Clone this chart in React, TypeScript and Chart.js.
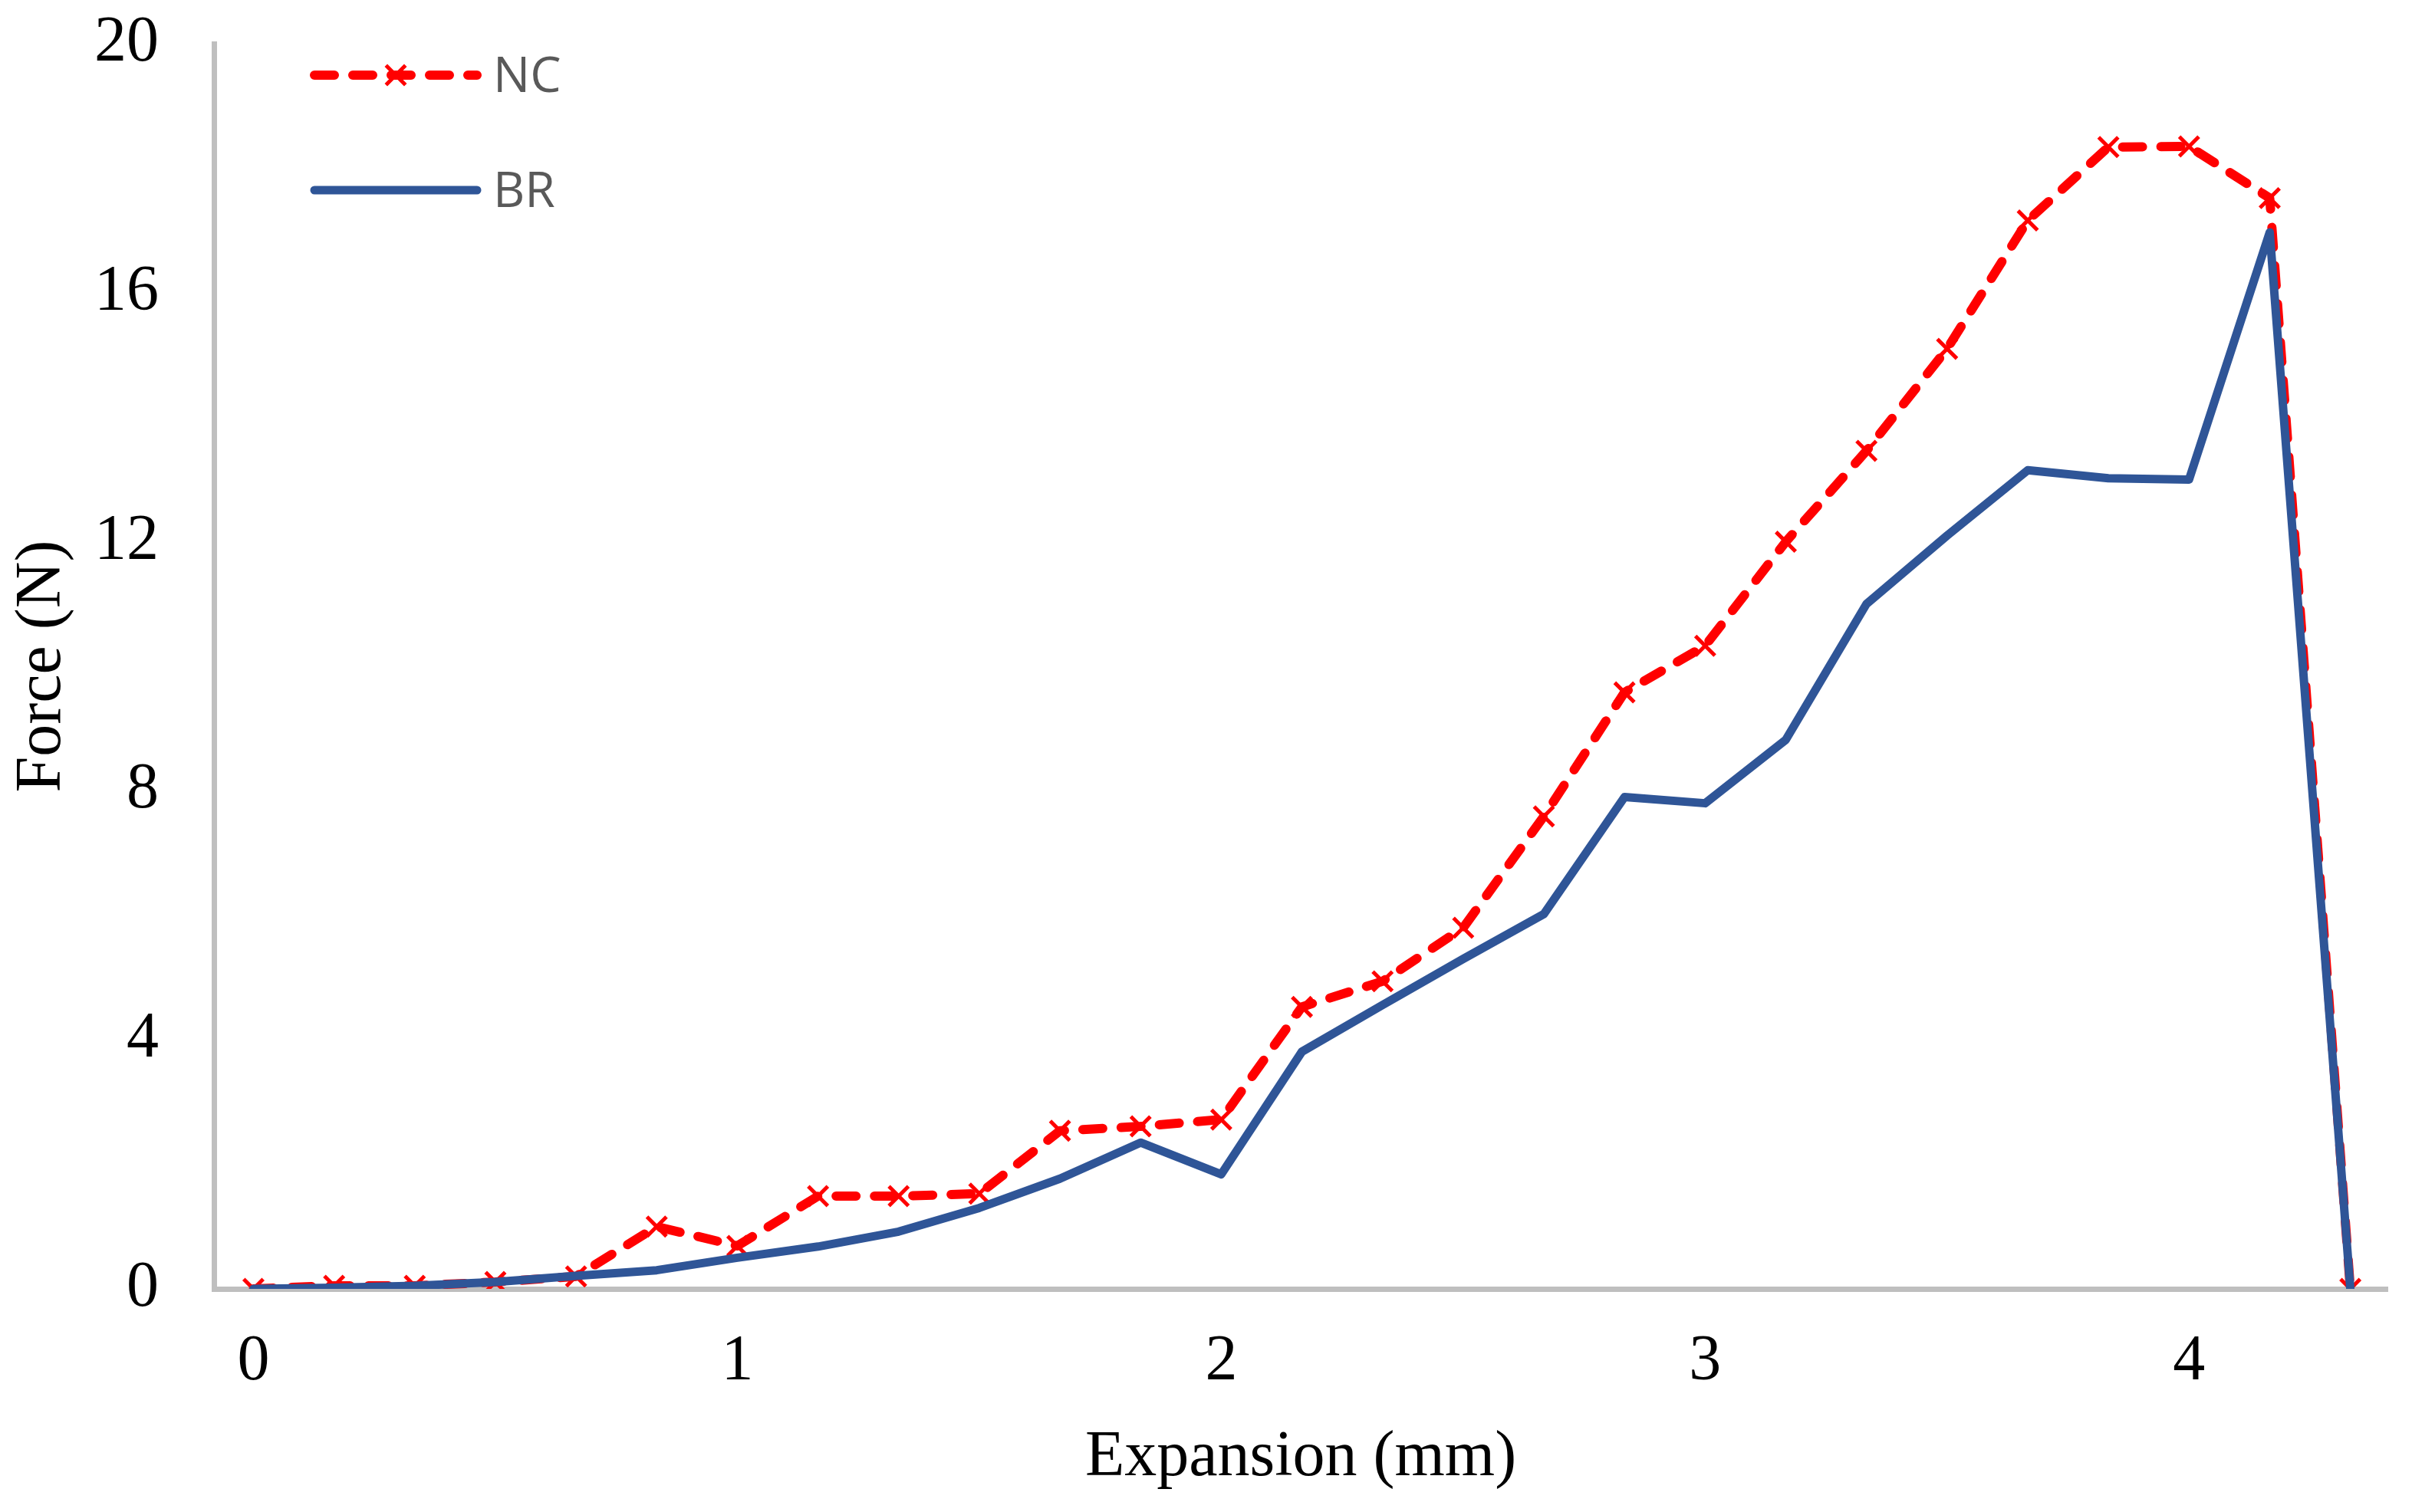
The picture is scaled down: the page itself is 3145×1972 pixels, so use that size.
import React, { useEffect, useRef } from 'react';
import { Chart, registerables } from 'chart.js';

Chart.register(...registerables);

// ---- data ----
const expansion = [
  0, 0.1667, 0.3333, 0.5, 0.6667, 0.8333, 1.0, 1.1667, 1.3333, 1.5, 1.6667, 1.8333, 2.0,
  2.1667, 2.3333, 2.5, 2.6667, 2.8333, 3.0, 3.1667, 3.3333, 3.5, 3.6667, 3.8333, 4.0,
  4.1667, 4.3333,
];
const forceNC = [
  0, 0.05, 0.05, 0.11, 0.2, 1.0, 0.69, 1.49, 1.49, 1.53, 2.54, 2.61, 2.72, 4.53, 4.94,
  5.8, 7.59, 9.58, 10.33, 12.0, 13.46, 15.1, 17.16, 18.34, 18.35, 17.52, 0,
];
const forceBR = [
  0, 0.02, 0.05, 0.11, 0.21, 0.3, 0.5, 0.68, 0.92, 1.3, 1.77, 2.35, 1.84, 3.81, 4.56,
  5.3, 6.02, 7.9, 7.8, 8.82, 11.0, 12.1, 13.15, 13.02, 13.0, 16.97, 0,
];
const seriesNames = ['NC', 'BR'];
const xTicks = [0, 1, 2, 3, 4];
const yTicks = [0, 4, 8, 12, 16, 20];
const xTitle = 'Expansion (mm)';
const yTitle = 'Force (N)';

const W = 3145;
const H = 1972;
const SERIF = '"Liberation Serif", "Times New Roman", serif';

function toPoints(ys: number[]) {
  return ys.map((y, i) => ({ x: expansion[i], y }));
}

function drawCross(ctx: CanvasRenderingContext2D, cx: number, cy: number, r: number) {
  const d = r * Math.SQRT1_2;
  ctx.beginPath();
  ctx.moveTo(cx - d, cy - d);
  ctx.lineTo(cx + d, cy + d);
  ctx.moveTo(cx + d, cy - d);
  ctx.lineTo(cx - d, cy + d);
  ctx.stroke();
}

const insideLegend = {
  id: 'insideLegend',
  afterDraw(chart: any) {
    const ctx: CanvasRenderingContext2D = chart.ctx;
    const rows = [98, 248];
    chart.data.datasets.forEach((ds: any, i: number) => {
      const y = rows[i];
      ctx.save();
      ctx.strokeStyle = ds.borderColor;
      ctx.lineWidth = ds.borderWidth;
      ctx.lineCap = 'round';
      ctx.lineJoin = 'round';
      ctx.setLineDash(ds.borderDash || []);
      ctx.lineDashOffset = 0;
      ctx.beginPath();
      ctx.moveTo(410, y);
      ctx.lineTo(622, y);
      ctx.stroke();
      if (ds.pointRadius > 0) {
        ctx.setLineDash([]);
        ctx.lineCap = 'butt';
        ctx.lineWidth = ds.pointBorderWidth;
        ctx.strokeStyle = ds.pointBorderColor;
        drawCross(ctx, 516, y, ds.pointRadius);
      }
      ctx.fillStyle = '#595959';
      ctx.font = '64px "Open Sans", "Noto Sans", sans-serif';
      ctx.textAlign = 'left';
      ctx.textBaseline = 'alphabetic';
      ctx.fillText(ds.label, 643, y + 22);
      ctx.restore();
    });
  },
};

function zeroPad(s: any) {
  s.paddingTop = 0;
  s.paddingBottom = 0;
  s.paddingLeft = 0;
  s.paddingRight = 0;
}

export default function App() {
  const ref = useRef<HTMLCanvasElement | null>(null);

  useEffect(() => {
    if (!ref.current) return;
    const chart = new Chart(ref.current, {
      type: 'line',
      data: {
        datasets: [
          {
            label: seriesNames[0],
            data: toPoints(forceNC),
            borderColor: '#FF0000',
            backgroundColor: '#FF0000',
            borderWidth: 12,
            borderDash: [26, 24],
            borderCapStyle: 'round',
            borderJoinStyle: 'round',
            pointStyle: 'crossRot',
            pointRadius: 18,
            pointBorderWidth: 5,
            pointBorderColor: '#FF0000',
            pointBackgroundColor: '#FF0000',
            tension: 0,
            order: 2,
          } as any,
          {
            label: seriesNames[1],
            data: toPoints(forceBR),
            borderColor: '#2F5597',
            backgroundColor: '#2F5597',
            borderWidth: 11,
            borderCapStyle: 'round',
            borderJoinStyle: 'round',
            pointRadius: 0,
            pointBorderWidth: 0,
            tension: 0,
            order: 1,
          } as any,
        ],
      },
      options: {
        animation: false,
        responsive: false,
        devicePixelRatio: 1,
        layout: { padding: { top: 57, right: 32, left: 0, bottom: 0 } },
        plugins: {
          legend: { display: false },
          tooltip: { enabled: false },
          title: { display: false },
        },
        scales: {
          x: {
            type: 'linear',
            min: -0.0816,
            max: 4.41,
            afterFit: (s: any) => {
              s.height = 291;
              zeroPad(s);
            },
            afterBuildTicks: (s: any) => {
              s.ticks = xTicks.map((v) => ({ value: v }));
            },
            grid: { display: false, drawTicks: false },
            border: { display: true, color: '#BFBFBF', width: 7 },
            ticks: {
              color: '#000000',
              padding: 46,
              maxRotation: 0,
              autoSkip: false,
              font: { family: SERIF, size: 84, lineHeight: 1.2 },
              callback: (v: any) => String(v),
            },
            title: {
              display: true,
              text: xTitle,
              color: '#000000',
              font: { family: SERIF, size: 84, lineHeight: 1.2 },
              padding: { top: 0, bottom: 20 },
            },
          },
          y: {
            type: 'linear',
            min: 0,
            max: 20,
            afterFit: (s: any) => {
              s.width = 279;
              zeroPad(s);
            },
            afterBuildTicks: (s: any) => {
              s.ticks = yTicks.map((v) => ({ value: v }));
            },
            grid: { display: false, drawTicks: false },
            border: { display: true, color: '#BFBFBF', width: 7 },
            ticks: {
              color: '#000000',
              padding: 72,
              autoSkip: false,
              font: { family: SERIF, size: 84, lineHeight: 1.2 },
              callback: (v: any) => String(v),
            },
            title: {
              display: true,
              text: yTitle,
              color: '#000000',
              font: { family: SERIF, size: 84, lineHeight: 1.2 },
              padding: { top: 6, bottom: 0 },
            },
          },
        },
      } as any,
      plugins: [insideLegend],
    });
    return () => chart.destroy();
  }, []);

  return (
    <div
      style={{
        position: 'fixed',
        left: 0,
        top: 0,
        width: W + 'px',
        height: H + 'px',
        background: '#ffffff',
      }}
    >
      <canvas ref={ref} width={W} height={H} style={{ width: W + 'px', height: H + 'px', display: 'block' }} />
    </div>
  );
}
